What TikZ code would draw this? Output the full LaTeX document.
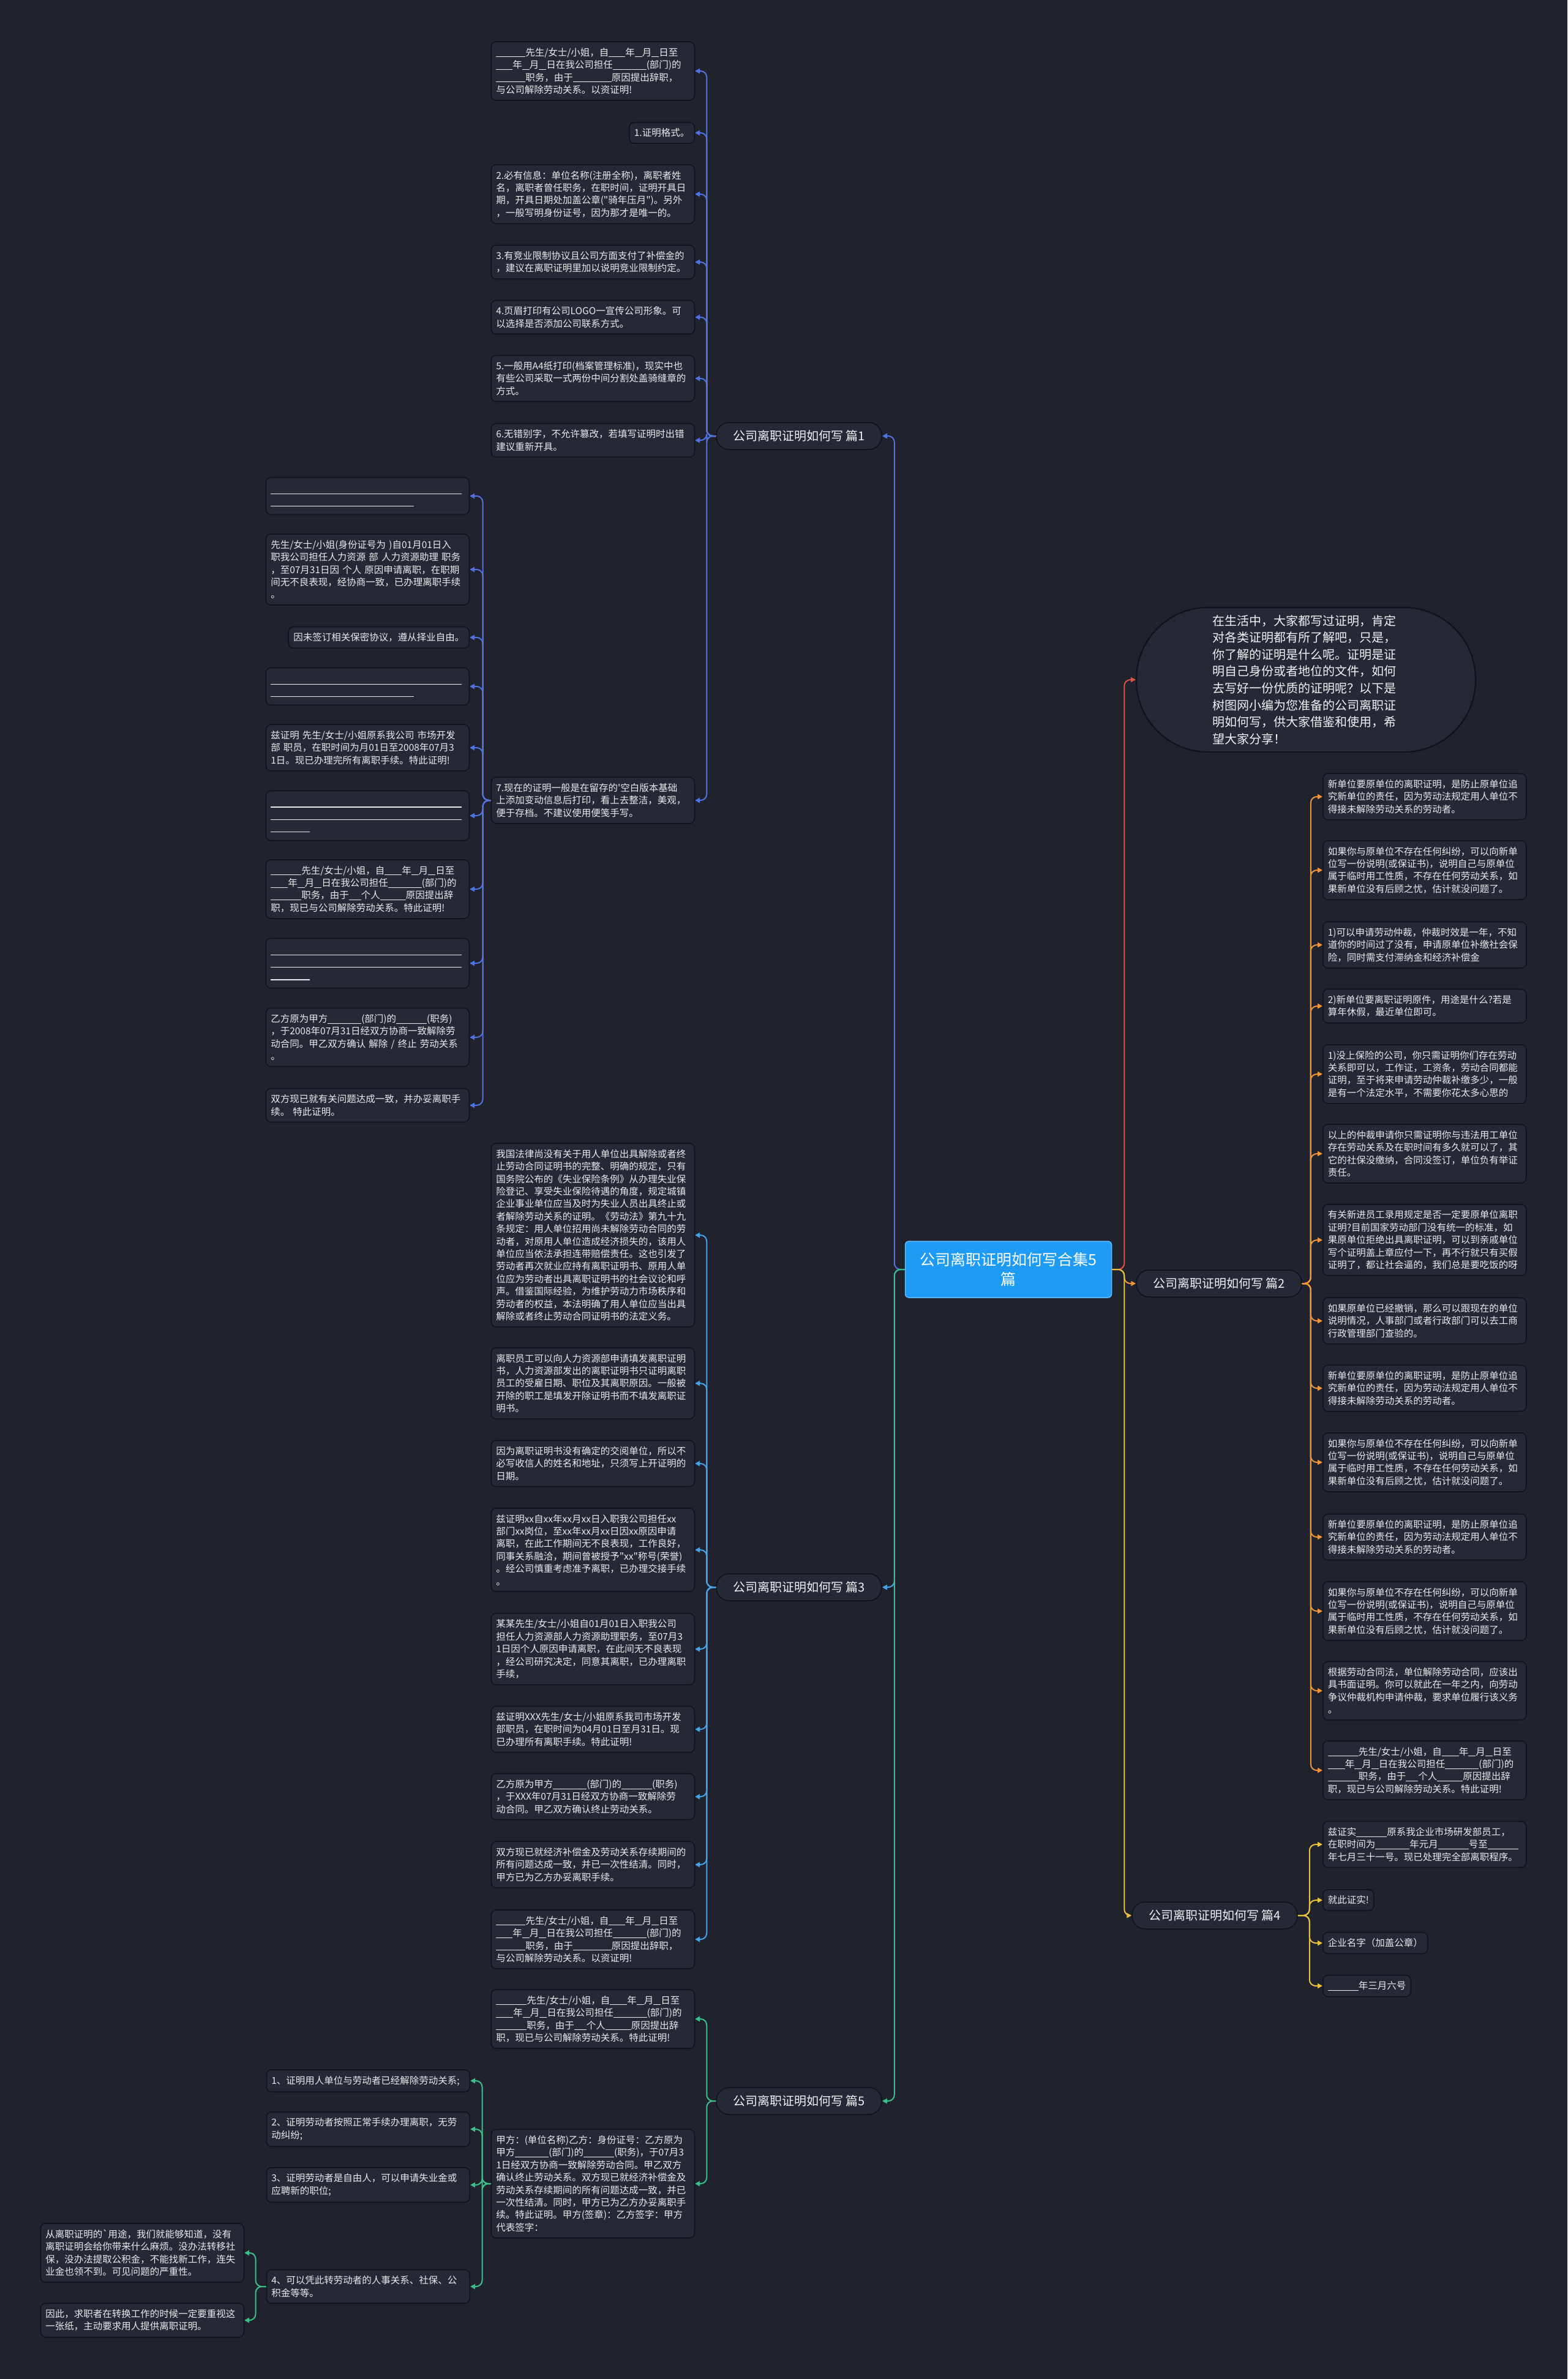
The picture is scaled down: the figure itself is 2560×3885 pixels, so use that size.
\documentclass[tikz,border=0pt]{standalone}
\usepackage{fontspec}
\newfontfamily\cjk{Noto Sans CJK SC}
\usetikzlibrary{arrows.meta}
\definecolor{bgdark}{HTML}{20232E}
\definecolor{boxfill}{HTML}{252935}
\definecolor{boxline}{HTML}{0F1117}
\definecolor{rootblue}{HTML}{1E9BF5}
\definecolor{linkA}{HTML}{5273E0}
\definecolor{linkB}{HTML}{E0533F}
\definecolor{linkC}{HTML}{F0963A}
\definecolor{linkD}{HTML}{47A3E6}
\definecolor{linkE}{HTML}{EBC23B}
\definecolor{linkF}{HTML}{3BC08A}
\newcommand\fillin[1]{\rule[-2pt]{#1pt}{0.9pt}}
\newcommand\blankline[1]{\strut\rule[-3pt]{#1pt}{1.2pt}}
\tikzset{
  leaf/.style={draw=boxline, line width=1.5pt, fill=boxfill, rounded corners=8pt, text=white!92!black,
    align=left, inner xsep=8pt, inner ysep=10pt, font=\cjk\fontsize{15.5}{20.4}\selectfont},
  wide/.style={leaf, text width=316pt},
  branch/.style={draw=boxline, line width=1.5pt, fill=boxfill, rounded corners=21pt, text=white!95!black,
    minimum width=270pt, minimum height=44pt, font=\cjk\fontsize{20}{24}\selectfont},
  link/.style={line width=2pt, rounded corners=10pt, -{Triangle[length=8pt,width=8pt]}}
}
\begin{document}
\begin{tikzpicture}[x=1pt, y=-1pt]
  \fill[bgdark] (0,0) rectangle (2560,3885);
  \useasboundingbox (0,0) rectangle (2560,3885);

  \node[draw=rootblue!70!white, line width=1.5pt, fill=rootblue, rounded corners=6pt, text=white, align=center,
    minimum width=337pt, minimum height=92pt, font=\cjk\fontsize{25}{32}\selectfont] (root) at (1647,2073)
    {公司离职证明如何写合集5\\篇};

  \node[branch] (p1) at (1305,712) {公司离职证明如何写 篇1};
  \node[branch] (p2) at (1991,2096) {公司离职证明如何写 篇2};
  \node[branch] (p3) at (1305,2592) {公司离职证明如何写 篇3};
  \node[branch] (p4) at (1984,3128) {公司离职证明如何写 篇4};
  \node[branch] (p5) at (1305,3431) {公司离职证明如何写 篇5};

  \node[draw=boxline, line width=2pt, fill=boxfill, rounded corners=117pt, minimum width=554pt, minimum height=236pt,
    text width=306pt, align=left, text=white!95!black, font=\cjk\fontsize{20}{27.6}\selectfont] (intro) at (2133,1110)
    {在生活中，大家都写过证明，肯定\\对各类证明都有所了解吧，只是，\\你了解的证明是什么呢。证明是证\\明自己身份或者地位的文件，如何\\去写好一份优质的证明呢？以下是\\树图网小编为您准备的公司离职证\\明如何写，供大家借鉴和使用，希\\望大家分享！};

  \node[wide, anchor=east] (a1) at (1135,116) {\fillin{48}先生/女士/小姐，自\fillin{27}年\fillin{12}月\fillin{12}日至\\\fillin{27}年\fillin{12}月\fillin{12}日在我公司担任\fillin{55}(部门)的\\\fillin{48}职务，由于\fillin{63}原因提出辞职，\\与公司解除劳动关系。以资证明!};
  \node[leaf, anchor=east] (a2) at (1135,217) {1.证明格式。};
  \node[wide, anchor=east] (a3) at (1135,317) {2.必有信息：单位名称(注册全称)，离职者姓\\名，离职者曾任职务，在职时间，证明开具日\\期，开具日期处加盖公章("骑年压月")。另外\\，一般写明身份证号，因为那才是唯一的。};
  \node[wide, anchor=east] (a4) at (1135,428) {3.有竞业限制协议且公司方面支付了补偿金的\\，建议在离职证明里加以说明竞业限制约定。};
  \node[wide, anchor=east] (a5) at (1135,518) {4.页眉打印有公司LOGO一宣传公司形象。可\\以选择是否添加公司联系方式。};
  \node[wide, anchor=east] (a6) at (1135,618) {5.一般用A4纸打印(档案管理标准)，现实中也\\有些公司采取一式两份中间分割处盖骑缝章的\\方式。};
  \node[wide, anchor=east] (a7) at (1135,719) {6.无错别字，不允许篡改，若填写证明时出错\\建议重新开具。};
  \node[wide, anchor=east] (a8) at (1135,1307) {7.现在的证明一般是在留存的'空白版本基础\\上添加变动信息后打印，看上去整洁，美观，\\便于存档。不建议使用便笺手写。};

  \node[wide, anchor=east] (s1) at (767,810) {\blankline{312}\\\blankline{234}};
  \node[wide, anchor=east] (s2) at (767,930) {先生/女士/小姐(身份证号为 )自01月01日入\\职我公司担任人力资源 部 人力资源助理 职务\\，至07月31日因 个人 原因申请离职，在职期\\间无不良表现，经协商一致，已办理离职手续\\。};
  \node[leaf, anchor=east] (s3) at (767,1041) {因未签订相关保密协议，遵从择业自由。};
  \node[wide, anchor=east] (s4) at (767,1121) {\blankline{312}\\\blankline{234}};
  \node[wide, anchor=east] (s5) at (767,1221) {兹证明 先生/女士/小姐原系我公司 市场开发\\部 职员，在职时间为月01日至2008年07月3\\1日。现已办理完所有离职手续。特此证明!};
  \node[wide, anchor=east] (s6) at (767,1332) {\blankline{312}\\\blankline{312}\\\blankline{64}};
  \node[wide, anchor=east] (s7) at (767,1452) {\fillin{50}先生/女士/小姐，自\fillin{28}年\fillin{12}月\fillin{12}日至\\\fillin{28}年\fillin{12}月\fillin{12}日在我公司担任\fillin{55}(部门)的\\\fillin{50}职务，由于\fillin{20}个人\fillin{42}原因提出辞\\职，现已与公司解除劳动关系。特此证明!};
  \node[wide, anchor=east] (s8) at (767,1573) {\blankline{312}\\\blankline{312}\\\blankline{64}};
  \node[wide, anchor=east] (s9) at (767,1694) {乙方原为甲方\fillin{55}(部门)的\fillin{50}(职务)\\，于2008年07月31日经双方协商一致解除劳\\动合同。甲乙双方确认 解除 / 终止 劳动关系\\。};
  \node[wide, anchor=east] (s10) at (767,1805) {双方现已就有关问题达成一致，并办妥离职手\\续。 特此证明。};

  \node[wide, anchor=east] (c1) at (1135,2017) {我国法律尚没有关于用人单位出具解除或者终\\止劳动合同证明书的完整、明确的规定，只有\\国务院公布的《失业保险条例》从办理失业保\\险登记、享受失业保险待遇的角度，规定城镇\\企业事业单位应当及时为失业人员出具终止或\\者解除劳动关系的证明。《劳动法》第九十九\\条规定：用人单位招用尚未解除劳动合同的劳\\动者，对原用人单位造成经济损失的，该用人\\单位应当依法承担连带赔偿责任。这也引发了\\劳动者再次就业应持有离职证明书、原用人单\\位应为劳动者出具离职证明书的社会议论和呼\\声。借鉴国际经验，为维护劳动力市场秩序和\\劳动者的权益，本法明确了用人单位应当出具\\解除或者终止劳动合同证明书的法定义务。};
  \node[wide, anchor=east] (c2) at (1135,2259) {离职员工可以向人力资源部申请填发离职证明\\书，人力资源部发出的离职证明书只证明离职\\员工的受雇日期、职位及其离职原因。一般被\\开除的职工是填发开除证明书而不填发离职证\\明书。};
  \node[wide, anchor=east] (c3) at (1135,2390) {因为离职证明书没有确定的交阅单位，所以不\\必写收信人的姓名和地址，只须写上开证明的\\日期。};
  \node[wide, anchor=east] (c4) at (1135,2531) {兹证明xx自xx年xx月xx日入职我公司担任xx\\部门xx岗位，至xx年xx月xx日因xx原因申请\\离职，在此工作期间无不良表现，工作良好，\\同事关系融洽，期间曾被授予"xx"称号(荣誉)\\。经公司慎重考虑准予离职，已办理交接手续\\。};
  \node[wide, anchor=east] (c5) at (1135,2693) {某某先生/女士/小姐自01月01日入职我公司\\担任人力资源部人力资源助理职务，至07月3\\1日因个人原因申请离职，在此间无不良表现\\，经公司研究决定，同意其离职，已办理离职\\手续，};
  \node[wide, anchor=east] (c6) at (1135,2824) {兹证明XXX先生/女士/小姐原系我司市场开发\\部职员，在职时间为04月01日至月31日。现\\已办理所有离职手续。特此证明!};
  \node[wide, anchor=east] (c7) at (1135,2934) {乙方原为甲方\fillin{55}(部门)的\fillin{50}(职务)\\，于XXX年07月31日经双方协商一致解除劳\\动合同。甲乙双方确认终止劳动关系。};
  \node[wide, anchor=east] (c8) at (1135,3045) {双方现已就经济补偿金及劳动关系存续期间的\\所有问题达成一致，并已一次性结清。同时，\\甲方已为乙方办妥离职手续。};
  \node[wide, anchor=east] (c9) at (1135,3167) {\fillin{48}先生/女士/小姐，自\fillin{27}年\fillin{12}月\fillin{12}日至\\\fillin{27}年\fillin{12}月\fillin{12}日在我公司担任\fillin{55}(部门)的\\\fillin{48}职务，由于\fillin{63}原因提出辞职，\\与公司解除劳动关系。以资证明!};

  \node[wide, anchor=east] (e1) at (1135,3297) {\fillin{50}先生/女士/小姐，自\fillin{28}年\fillin{12}月\fillin{12}日至\\\fillin{28}年\fillin{12}月\fillin{12}日在我公司担任\fillin{55}(部门)的\\\fillin{50}职务，由于\fillin{20}个人\fillin{42}原因提出辞\\职，现已与公司解除劳动关系。特此证明!};
  \node[wide, anchor=east] (e2) at (1135,3566) {甲方：(单位名称)乙方：身份证号：乙方原为\\甲方\fillin{55}(部门)的\fillin{50}(职务)，于07月3\\1日经双方协商一致解除劳动合同。甲乙双方\\确认终止劳动关系。双方现已就经济补偿金及\\劳动关系存续期间的所有问题达成一致，并已\\一次性结清。同时，甲方已为乙方办妥离职手\\续。特此证明。甲方(签章)：乙方签字：甲方\\代表签字：};
  \node[wide, anchor=east] (f1) at (768,3398) {1、证明用人单位与劳动者已经解除劳动关系;};
  \node[wide, anchor=east] (f2) at (768,3477) {2、证明劳动者按照正常手续办理离职，无劳\\动纠纷;};
  \node[wide, anchor=east] (f3) at (768,3568) {3、证明劳动者是自由人，可以申请失业金或\\应聘新的职位;};
  \node[wide, anchor=east] (f4) at (768,3734) {4、可以凭此转劳动者的人事关系、社保、公\\积金等等。};
  \node[wide, anchor=east] (g1) at (399,3679) {从离职证明的\symbol{96}用途，我们就能够知道，没有\\离职证明会给你带来什么麻烦。没办法转移社\\保，没办法提取公积金，不能找新工作，连失\\业金也领不到。可见问题的严重性。};
  \node[wide, anchor=east] (g2) at (399,3789) {因此，求职者在转换工作的时候一定要重视这\\一张纸，主动要求用人提供离职证明。};

  \node[wide, anchor=west] (b1) at (2160,1301) {新单位要原单位的离职证明，是防止原单位追\\究新单位的责任，因为劳动法规定用人单位不\\得接未解除劳动关系的劳动者。};
  \node[wide, anchor=west] (b2) at (2160,1421) {如果你与原单位不存在任何纠纷，可以向新单\\位写一份说明(或保证书)，说明自己与原单位\\属于临时用工性质，不存在任何劳动关系，如\\果新单位没有后顾之忧，估计就没问题了。};
  \node[wide, anchor=west] (b3) at (2160,1543) {1)可以申请劳动仲裁，仲裁时效是一年，不知\\道你的时间过了没有，申请原单位补缴社会保\\险，同时需支付滞纳金和经济补偿金};
  \node[wide, anchor=west] (b4) at (2160,1643) {2)新单位要离职证明原件，用途是什么?若是\\算年休假，最近单位即可。};
  \node[wide, anchor=west] (b5) at (2160,1754) {1)没上保险的公司，你只需证明你们存在劳动\\关系即可以，工作证，工资条，劳动合同都能\\证明，至于将来申请劳动仲裁补缴多少，一般\\是有一个法定水平，不需要你花太多心思的};
  \node[wide, anchor=west] (b6) at (2160,1884) {以上的仲裁申请你只需证明你与违法用工单位\\存在劳动关系及在职时间有多久就可以了，其\\它的社保没缴纳，合同没签订，单位负有举证\\责任。};
  \node[wide, anchor=west] (b7) at (2160,2025) {有关新进员工录用规定是否一定要原单位离职\\证明?目前国家劳动部门没有统一的标准，如\\果原单位拒绝出具离职证明，可以到亲戚单位\\写个证明盖上章应付一下，再不行就只有买假\\证明了，都让社会逼的，我们总是要吃饭的呀};
  \node[wide, anchor=west] (b8) at (2160,2157) {如果原单位已经撤销，那么可以跟现在的单位\\说明情况，人事部门或者行政部门可以去工商\\行政管理部门查验的。};
  \node[wide, anchor=west] (b9) at (2160,2267) {新单位要原单位的离职证明，是防止原单位追\\究新单位的责任，因为劳动法规定用人单位不\\得接未解除劳动关系的劳动者。};
  \node[wide, anchor=west] (b10) at (2160,2388) {如果你与原单位不存在任何纠纷，可以向新单\\位写一份说明(或保证书)，说明自己与原单位\\属于临时用工性质，不存在任何劳动关系，如\\果新单位没有后顾之忧，估计就没问题了。};
  \node[wide, anchor=west] (b11) at (2160,2510) {新单位要原单位的离职证明，是防止原单位追\\究新单位的责任，因为劳动法规定用人单位不\\得接未解除劳动关系的劳动者。};
  \node[wide, anchor=west] (b12) at (2160,2631) {如果你与原单位不存在任何纠纷，可以向新单\\位写一份说明(或保证书)，说明自己与原单位\\属于临时用工性质，不存在任何劳动关系，如\\果新单位没有后顾之忧，估计就没问题了。};
  \node[wide, anchor=west] (b13) at (2160,2761) {根据劳动合同法，单位解除劳动合同，应该出\\具书面证明。你可以就此在一年之内，向劳动\\争议仲裁机构申请仲裁，要求单位履行该义务\\。};
  \node[wide, anchor=west] (b14) at (2160,2891) {\fillin{50}先生/女士/小姐，自\fillin{28}年\fillin{12}月\fillin{12}日至\\\fillin{28}年\fillin{12}月\fillin{12}日在我公司担任\fillin{55}(部门)的\\\fillin{50}职务，由于\fillin{20}个人\fillin{42}原因提出辞\\职，现已与公司解除劳动关系。特此证明!};

  \node[wide, anchor=west] (d1) at (2160,3012) {兹证实\fillin{50}原系我企业市场研发部员工，\\在职时间为\fillin{56}年元月\fillin{50}号至\fillin{50}\\年七月三十一号。现已处理完全部离职程序。};
  \node[leaf, anchor=west] (d2) at (2160,3103) {就此证实!};
  \node[leaf, anchor=west] (d3) at (2160,3173) {企业名字（加盖公章）};
  \node[leaf, anchor=west] (d4) at (2160,3243) {\fillin{50}年三月六号};

  \foreach \c/\col in {p1/linkA, p3/linkD, p5/linkF}
    \draw[link, draw=\col] (root.west) -- ++(-17,0) |- (\c.east);
  \foreach \c/\col in {intro/linkB, p2/linkC, p4/linkE}
    \draw[link, draw=\col] (root.east) -- ++(20,0) |- (\c.west);
  \foreach \c in {a1,a2,a3,a4,a5,a6,a7,a8}
    \draw[link, draw=linkA] (p1.west) -- ++(-15,0) |- (\c.east);
  \foreach \c in {s1,s2,s3,s4,s5,s6,s7,s8,s9,s10}
    \draw[link, draw=linkA] (a8.west) -- ++(-13,0) |- (\c.east);
  \foreach \c in {c1,c2,c3,c4,c5,c6,c7,c8,c9}
    \draw[link, draw=linkD] (p3.west) -- ++(-15,0) |- (\c.east);
  \foreach \c in {e1,e2}
    \draw[link, draw=linkF] (p5.west) -- ++(-15,0) |- (\c.east);
  \foreach \c in {f1,f2,f3,f4}
    \draw[link, draw=linkF] (e2.west) -- ++(-14,0) |- (\c.east);
  \foreach \c in {g1,g2}
    \draw[link, draw=linkF] (f4.west) -- ++(-17,0) |- (\c.east);
  \foreach \c in {b1,b2,b3,b4,b5,b6,b7,b8,b9,b10,b11,b12,b13,b14}
    \draw[link, draw=linkC] (p2.east) -- ++(14,0) |- (\c.west);
  \foreach \c in {d1,d2,d3,d4}
    \draw[link, draw=linkE] (p4.east) -- ++(19,0) |- (\c.west);
\end{tikzpicture}
\end{document}
